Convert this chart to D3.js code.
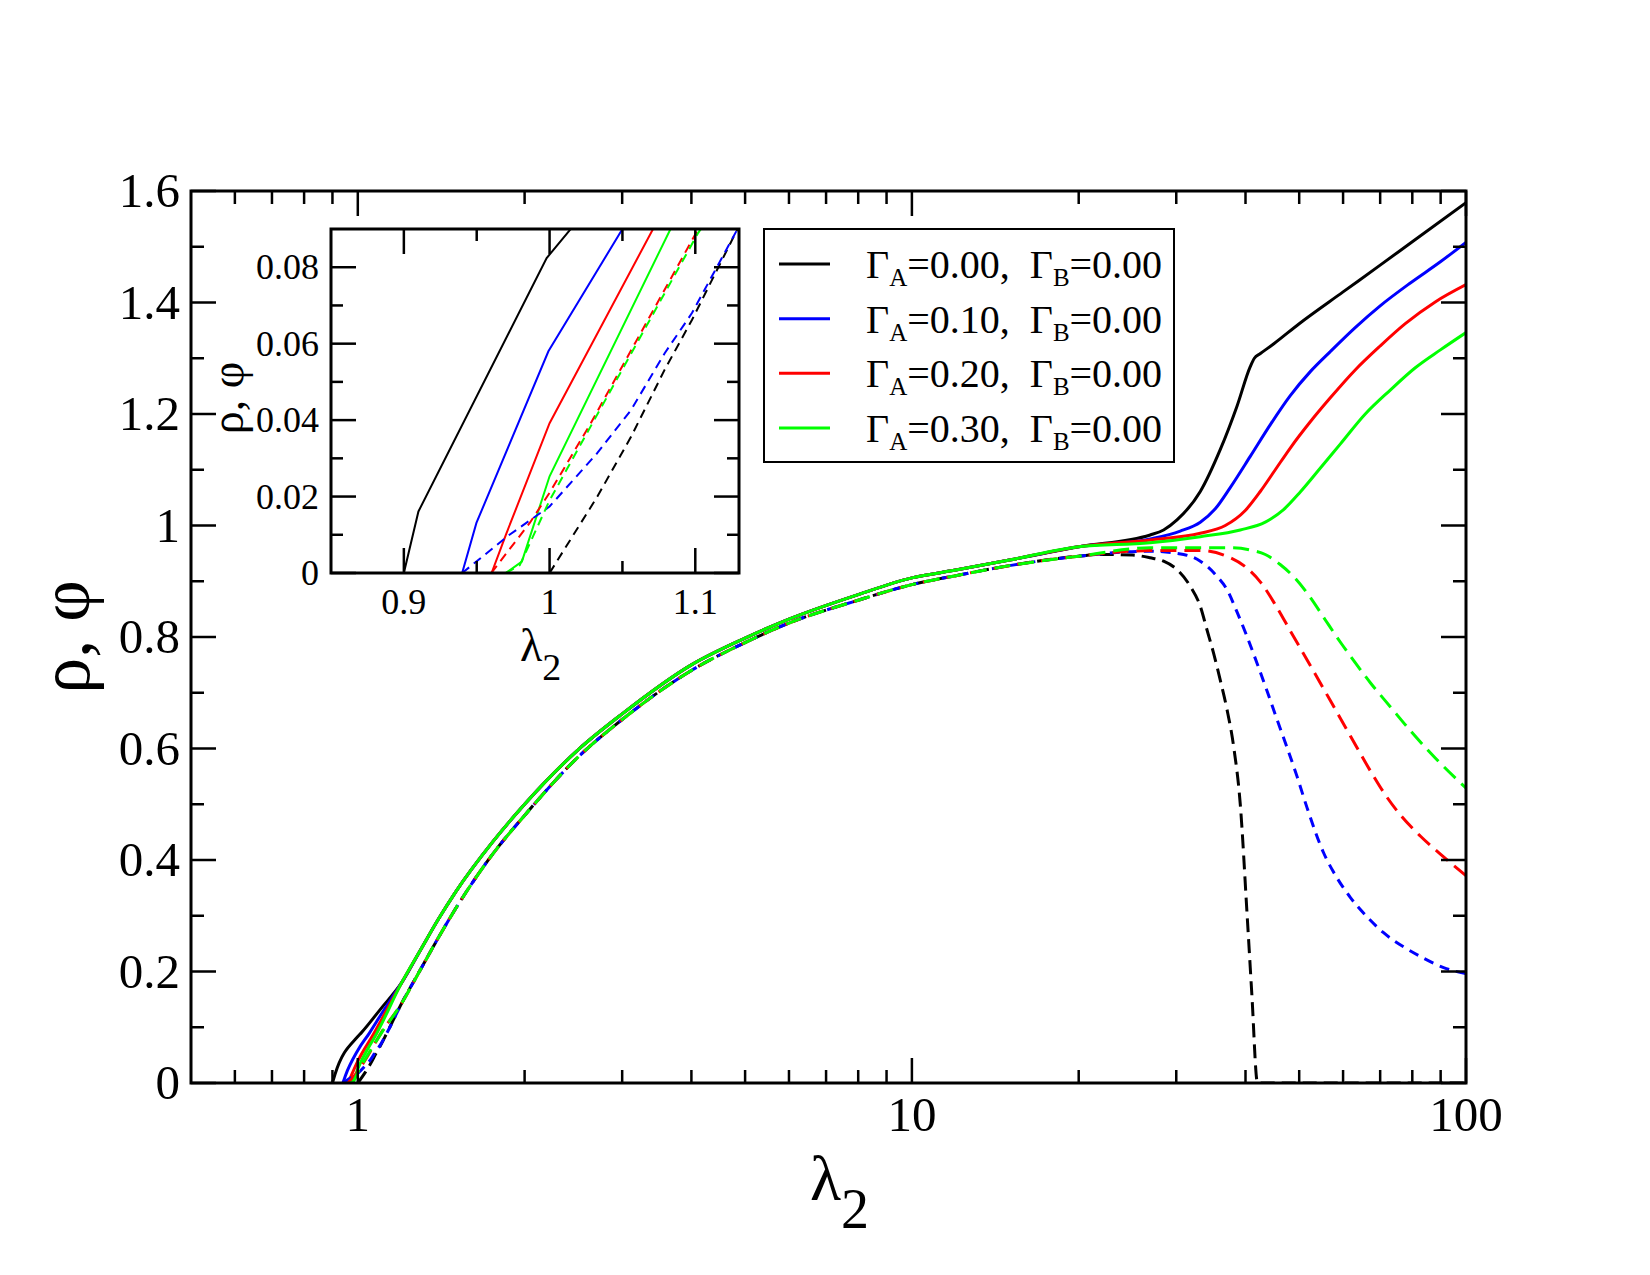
<!DOCTYPE html>
<html>
<head>
<meta charset="utf-8">
<script src="https://cdn.jsdelivr.net/npm/d3@7"></script>
<style>
  body { margin: 0; background: #fff; }
  text { font-family: "Liberation Serif", "Times New Roman", serif; fill: #000; }
</style>
</head>
<body>
<svg id="chart" width="1650" height="1275"></svg>
<script>
(function () {
  'use strict';

  /* ── Data ── */
  var gammaA = ['0.00', '0.10', '0.20', '0.30'];
  var gammaB = '0.00';
  var colors = ['#000000', '#0000ff', '#ff0000', '#00ff00'];
  var dashes = ['14,7', '10,7', '16,8', '16,8'];

  /* rho (solid): onset part, shared middle part, high-lambda part */
  var rhoHead = [
    [[0.90, 0], [0.91, 0.0161], [0.998, 0.0824], [1.0143, 0.0899], [1.1, 0.133]],
    [[0.94, 0], [0.9498, 0.0131], [0.9992, 0.058], [1.05, 0.09], [1.1, 0.122]],
    [[0.9602, 0], [0.970, 0.010], [1.0, 0.0392], [1.071, 0.090], [1.1, 0.111]],
    [[0.970, 0], [0.981, 0.003], [1.0, 0.0253], [1.083, 0.090], [1.1, 0.103]]
  ];
  var rhoCore = [[1.2, 0.18], [1.3, 0.24], [1.4, 0.295], [1.5, 0.342], [1.75, 0.432],
    [2, 0.500], [2.5, 0.598], [3, 0.662], [4, 0.75], [5, 0.798], [6, 0.832], [8, 0.876],
    [10, 0.906], [12, 0.92], [15, 0.938], [20, 0.962]];
  var rhoTail = [
    [[26.92, 0.983], [28.46, 0.992], [30.09, 1.010], [33.15, 1.061], [36.01, 1.136],
     [38.61, 1.214], [40.8, 1.285], [41.5, 1.300], [42.5, 1.308], [45, 1.326],
     [50, 1.362], [60, 1.419], [70, 1.467], [80, 1.509], [100, 1.579]],
    [[26.92, 0.976], [30.5, 0.990], [33.15, 1.006], [35.28, 1.030], [37.54, 1.068],
     [40.8, 1.124], [44.35, 1.181], [48.18, 1.233], [52.36, 1.276], [56.9, 1.312],
     [63.1, 1.355], [70.0, 1.394], [79.35, 1.435], [89.9, 1.473], [100, 1.508]],
    [[26.92, 0.974], [33.15, 0.986], [36.78, 1.000], [39.96, 1.027], [42.53, 1.061],
     [45.27, 1.100], [48.18, 1.139], [52.36, 1.186], [56.9, 1.229], [63.1, 1.279],
     [70.0, 1.322], [77.7, 1.362], [88.0, 1.401], [100, 1.432]],
    [[26.92, 0.969], [33.15, 0.980], [39.14, 0.992], [43.43, 1.006], [46.8, 1.028],
     [50.22, 1.060], [54.6, 1.103], [59.3, 1.146], [65.8, 1.200], [73.0, 1.243],
     [81.0, 1.283], [89.9, 1.315], [100, 1.346]]
  ];

  /* phi (dashed) */
  var phiHead = [
    [[1.0, 0], [1.0328, 0.020], [1.056, 0.0357], [1.079, 0.0532], [1.0977, 0.0662], [1.129, 0.090]],
    [[0.94, 0], [0.9725, 0.010], [1.0, 0.0174], [1.0328, 0.0314], [1.056, 0.0427],
     [1.079, 0.0575], [1.0977, 0.068], [1.129, 0.090]],
    [[0.96, 0], [0.9864, 0.0131], [1.0, 0.021], [1.028, 0.039], [1.102, 0.090]],
    [[0.97, 0], [0.9795, 0.002], [1.0, 0.019], [1.102, 0.089]]
  ];
  var phiCore = [[1.2, 0.143], [1.3, 0.205], [1.4, 0.262], [1.5, 0.312], [1.75, 0.41],
    [2, 0.48], [2.5, 0.585], [3, 0.652], [4, 0.74], [5, 0.79], [6, 0.825], [8, 0.866],
    [10, 0.894], [12, 0.91], [15, 0.928], [20, 0.945]];
  var phiTail = [
    [[22, 0.948], [25, 0.947], [26.92, 0.942], [28.46, 0.936], [30.09, 0.921], [31.8, 0.891],
     [33.15, 0.855], [34.08, 0.813], [35.03, 0.771], [36.01, 0.723], [37.04, 0.670],
     [38.07, 0.604], [39.14, 0.50], [40.25, 0.305], [41.09, 0.155], [41.96, 0.003],
     [42.1, 0], [100, 0]],
    [[26.92, 0.954], [30.93, 0.948], [33.15, 0.936], [35.52, 0.909], [37.04, 0.885],
     [38.61, 0.845], [40.25, 0.801], [41.96, 0.753], [43.75, 0.703], [45.6, 0.652],
     [47.53, 0.602], [49.55, 0.550], [51.65, 0.494], [55.33, 0.413], [58.5, 0.368],
     [61.82, 0.333], [66.3, 0.298], [70.9, 0.270], [77.2, 0.244], [83.8, 0.224],
     [91.1, 0.207], [100, 0.196]],
    [[26.92, 0.955], [33.15, 0.955], [36.78, 0.946], [39.96, 0.926], [42.53, 0.899],
     [45.27, 0.858], [48.18, 0.811], [52.36, 0.749], [56.9, 0.686], [61.82, 0.623],
     [67.2, 0.560], [71.5, 0.517], [76.1, 0.481], [82.7, 0.443], [91.0, 0.406], [100, 0.372]],
    [[26.92, 0.960], [37.54, 0.960], [40.8, 0.956], [43.43, 0.948], [46.2, 0.930],
     [49.2, 0.905], [52.36, 0.871], [55.7, 0.831], [59.3, 0.791], [63.1, 0.754],
     [67.2, 0.718], [73.0, 0.675], [79.35, 0.632], [88.0, 0.583], [100, 0.529]]
  ];

  /* Axis ticks and labels */
  var xMajor = [1, 10, 100];
  var xMinor = [0.6, 0.7, 0.8, 0.9, 2, 3, 4, 5, 6, 7, 8, 9, 20, 30, 40, 50, 60, 70, 80, 90];
  var yMajor = [0, 0.2, 0.4, 0.6, 0.8, 1.0, 1.2, 1.4, 1.6];
  var yMinor = [0.1, 0.3, 0.5, 0.7, 0.9, 1.1, 1.3, 1.5];
  var yLabels = ['0', '0.2', '0.4', '0.6', '0.8', '1', '1.2', '1.4', '1.6'];

  var ixMajor = [0.9, 1.0, 1.1];
  var ixMinor = [0.95, 1.05];
  var ixLabels = ['0.9', '1', '1.1'];
  var iyMajor = [0, 0.02, 0.04, 0.06, 0.08];
  var iyMinor = [0.01, 0.03, 0.05, 0.07];
  var iyLabels = ['0', '0.02', '0.04', '0.06', '0.08'];

  /* ── Build series ── */
  var rho = rhoHead.map(function (h, i) { return h.concat(rhoCore, rhoTail[i]); });
  var phi = phiHead.map(function (h, i) { return h.concat(phiCore, phiTail[i]); });

  var svg = d3.select('#chart');

  /* ── Main plot ── */
  var M = { l: 191, r: 1466, t: 191, b: 1083 };
  var x = d3.scaleLog().domain([0.5, 100]).range([M.l, M.r]);
  var y = d3.scaleLinear().domain([0, 1.6]).range([M.b, M.t]);

  var defs = svg.append('defs');
  defs.append('clipPath').attr('id', 'mainclip')
    .append('rect').attr('x', M.l).attr('y', M.t)
    .attr('width', M.r - M.l).attr('height', M.b - M.t);

  var line = d3.line()
    .x(function (d) { return x(d[0]); })
    .y(function (d) { return y(d[1]); })
    .curve(d3.curveMonotoneX);

  var plotG = svg.append('g').attr('clip-path', 'url(#mainclip)');
  rho.forEach(function (s, i) {
    plotG.append('path').attr('d', line(s))
      .attr('fill', 'none').attr('stroke', colors[i]).attr('stroke-width', 3);
  });
  phi.forEach(function (s, i) {
    plotG.append('path').attr('d', line(s))
      .attr('fill', 'none').attr('stroke', colors[i]).attr('stroke-width', 3)
      .attr('stroke-dasharray', dashes[i]);
  });

  function drawTicks(g, sx, sy, box, xMaj, xMin, yMaj, yMin, big, small) {
    var tg = g.append('g').attr('stroke', '#000').attr('stroke-width', 2.5);
    function vt(v, len) {
      tg.append('line').attr('x1', sx(v)).attr('x2', sx(v)).attr('y1', box.b).attr('y2', box.b - len);
      tg.append('line').attr('x1', sx(v)).attr('x2', sx(v)).attr('y1', box.t).attr('y2', box.t + len);
    }
    function ht(v, len) {
      tg.append('line').attr('y1', sy(v)).attr('y2', sy(v)).attr('x1', box.l).attr('x2', box.l + len);
      tg.append('line').attr('y1', sy(v)).attr('y2', sy(v)).attr('x1', box.r).attr('x2', box.r - len);
    }
    xMaj.forEach(function (v) { vt(v, big); });
    xMin.forEach(function (v) { vt(v, small); });
    yMaj.forEach(function (v) { ht(v, big); });
    yMin.forEach(function (v) { ht(v, small); });
    g.append('rect').attr('x', box.l).attr('y', box.t)
      .attr('width', box.r - box.l).attr('height', box.b - box.t)
      .attr('fill', 'none').attr('stroke', '#000').attr('stroke-width', 3);
  }

  drawTicks(svg, x, y, M, xMajor, xMinor, yMajor, yMinor, 25, 13);

  svg.append('g').selectAll('text').data(xMajor).join('text')
    .attr('x', function (d) { return x(d); }).attr('y', 1131)
    .attr('text-anchor', 'middle').attr('font-size', 49)
    .text(function (d) { return d; });
  svg.append('g').selectAll('text').data(yMajor).join('text')
    .attr('x', 180).attr('y', function (d) { return y(d) + 16; })
    .attr('text-anchor', 'end').attr('font-size', 49)
    .text(function (d, i) { return yLabels[i]; });

  var xl = svg.append('text').attr('x', 810).attr('y', 1200).attr('font-size', 64);
  xl.append('tspan').text('λ');
  xl.append('tspan').attr('font-size', 56).attr('dy', 28).text('2');

  svg.append('text').attr('transform', 'translate(89,637) rotate(-90)')
    .attr('text-anchor', 'middle').attr('font-size', 72).text('ρ, φ');

  /* ── Inset ── */
  var I = { l: 331, r: 739, t: 229, b: 573 };
  var ix = d3.scaleLinear().domain([0.85, 1.13]).range([I.l, I.r]);
  var iy = d3.scaleLinear().domain([0, 0.09]).range([I.b, I.t]);

  svg.append('rect').attr('x', I.l).attr('y', I.t)
    .attr('width', I.r - I.l).attr('height', I.b - I.t).attr('fill', '#fff');
  defs.append('clipPath').attr('id', 'insetclip')
    .append('rect').attr('x', I.l).attr('y', I.t)
    .attr('width', I.r - I.l).attr('height', I.b - I.t);

  var iline = d3.line()
    .x(function (d) { return ix(d[0]); })
    .y(function (d) { return iy(d[1]); });

  var insetG = svg.append('g').attr('clip-path', 'url(#insetclip)');
  rho.forEach(function (s, i) {
    insetG.append('path').attr('d', iline(s))
      .attr('fill', 'none').attr('stroke', colors[i]).attr('stroke-width', 2);
  });
  phi.forEach(function (s, i) {
    insetG.append('path').attr('d', iline(s))
      .attr('fill', 'none').attr('stroke', colors[i]).attr('stroke-width', 2)
      .attr('stroke-dasharray', '9,6');
  });

  drawTicks(svg, ix, iy, I, ixMajor, ixMinor, iyMajor, iyMinor, 25, 12);

  svg.append('g').selectAll('text').data(ixMajor).join('text')
    .attr('x', function (d) { return ix(d); }).attr('y', 614)
    .attr('text-anchor', 'middle').attr('font-size', 36)
    .text(function (d, i) { return ixLabels[i]; });
  svg.append('g').selectAll('text').data(iyMajor).join('text')
    .attr('x', 319).attr('y', function (d) { return iy(d) + 12; })
    .attr('text-anchor', 'end').attr('font-size', 36)
    .text(function (d, i) { return iyLabels[i]; });

  var ixl = svg.append('text').attr('x', 520).attr('y', 661).attr('font-size', 46);
  ixl.append('tspan').text('λ');
  ixl.append('tspan').attr('font-size', 38).attr('dy', 19).text('2');

  svg.append('text').attr('transform', 'translate(243,398) rotate(-90)')
    .attr('text-anchor', 'middle').attr('font-size', 46).text('ρ, φ');

  /* ── Legend ── */
  var L = { l: 764, r: 1174, t: 229, b: 462 };
  var rowY = d3.scaleLinear().domain([0, 3]).range([264, 428]);
  svg.append('rect').attr('x', L.l).attr('y', L.t)
    .attr('width', L.r - L.l).attr('height', L.b - L.t)
    .attr('fill', '#fff').attr('stroke', '#000').attr('stroke-width', 2);

  gammaA.forEach(function (g, i) {
    var ry = rowY(i);
    svg.append('line').attr('x1', 779).attr('x2', 830).attr('y1', ry).attr('y2', ry)
      .attr('stroke', colors[i]).attr('stroke-width', 3);
    var t = svg.append('text').attr('x', 866).attr('y', ry + 14).attr('font-size', 40);
    t.append('tspan').text('Γ');
    t.append('tspan').attr('font-size', 25).attr('dy', 8).text('A');
    t.append('tspan').attr('dy', -8).text('=' + g + ',\u00a0\u00a0Γ');
    t.append('tspan').attr('font-size', 25).attr('dy', 8).text('B');
    t.append('tspan').attr('dy', -8).text('=' + gammaB);
  });
})();
</script>
</body>
</html>
